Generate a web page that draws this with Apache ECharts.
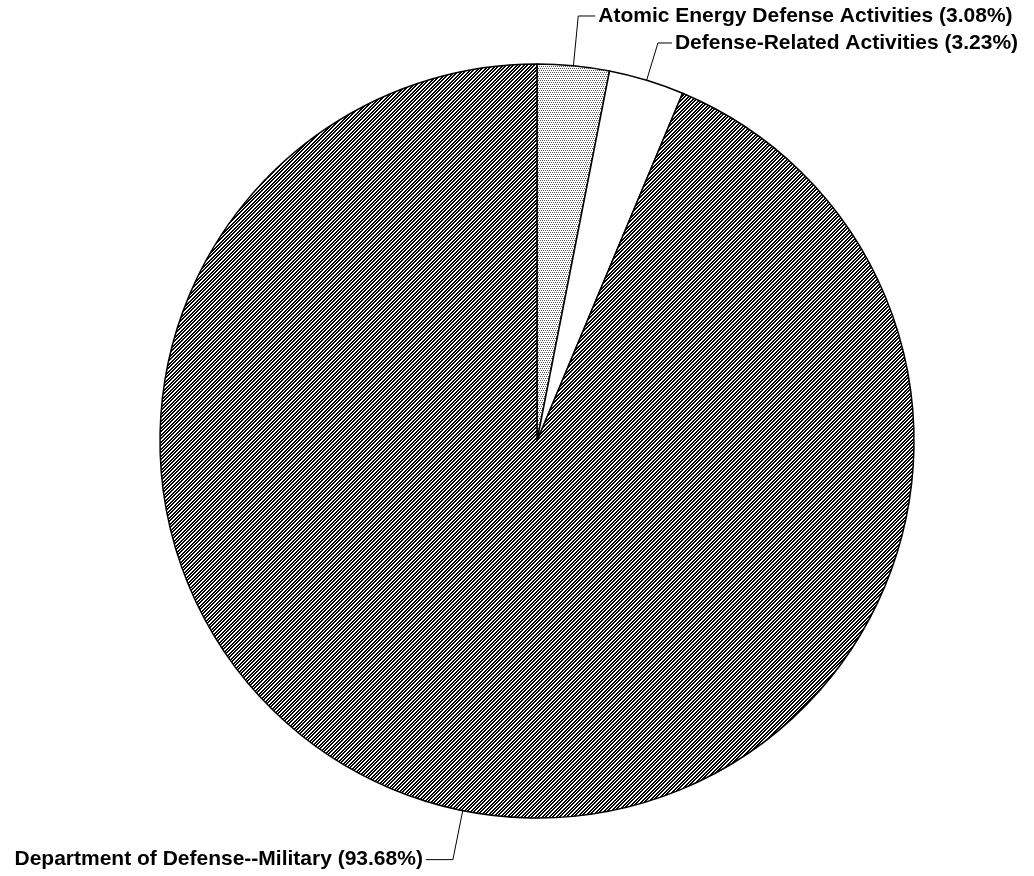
<!DOCTYPE html>
<html>
<head>
<meta charset="utf-8">
<script src="https://cdn.jsdelivr.net/npm/echarts@6/dist/echarts.min.js"></script>
<style>
html,body{margin:0;padding:0;background:#fff;}
#chart{width:1034px;height:876px;}
</style>
</head>
<body>
<div id="chart"></div>
<script>
var categories = [
  'Atomic Energy Defense Activities',
  'Defense-Related Activities',
  'Department of Defense--Military'
];
var shares = [3.08, 3.23, 93.68];
var fills = ['dots', 'white', 'hatch'];
var leaderLength = [50, 39, 50];
var leaderLength2 = [17, 14, 27];

function makeHatch() {
  var n = 7;
  var c = document.createElement('canvas');
  c.width = n; c.height = n;
  var ctx = c.getContext('2d');
  ctx.fillStyle = '#fff';
  ctx.fillRect(0, 0, n, n);
  ctx.fillStyle = '#000';
  for (var x = 0; x < n; x++) {
    for (var y = 0; y < n; y++) {
      var m = (x + y) % n;
      if (m === 0 || m === 1 || m === 3 || m === 4) ctx.fillRect(x, y, 1, 1);
    }
  }
  return c;
}
function makeDots() {
  var c = document.createElement('canvas');
  c.width = 4; c.height = 4;
  var ctx = c.getContext('2d');
  ctx.fillStyle = '#fff';
  ctx.fillRect(0, 0, 4, 4);
  ctx.fillStyle = '#555';
  ctx.fillRect(0, 0, 1, 1);
  ctx.fillRect(2, 0, 1, 1);
  ctx.fillRect(1, 2, 1, 1);
  ctx.fillRect(3, 2, 1, 1);
  return c;
}
var patterns = {
  hatch: { image: makeHatch(), repeat: 'repeat' },
  dots: { image: makeDots(), repeat: 'repeat' },
  white: '#ffffff'
};

var data = categories.map(function (name, i) {
  return {
    name: name,
    value: shares[i],
    itemStyle: { color: patterns[fills[i]] },
    labelLine: { length: leaderLength[i], length2: leaderLength2[i] }
  };
});

var chart = echarts.init(document.getElementById('chart'), null, { renderer: 'canvas' });
chart.setOption({
  animation: false,
  backgroundColor: '#fff',
  series: [{
    type: 'pie',
    center: [537, 441],
    radius: [0, 377],
    startAngle: 90,
    clockwise: true,
    avoidLabelOverlap: false,
    silent: true,
    itemStyle: { borderColor: '#000', borderWidth: 1.5 },
    label: {
      show: true,
      position: 'outside',
      formatter: function (p) { return p.name + ' (' + p.value.toFixed(2) + '%)'; },
      color: '#000',
      fontFamily: 'Liberation Sans, Arial, sans-serif',
      fontWeight: 'bold',
      fontSize: 21,
      lineHeight: 22,
      distanceToLabelLine: 3
    },
    labelLine: {
      show: true,
      smooth: false,
      lineStyle: { color: '#000', width: 1 }
    },
    labelLayout: { hideOverlap: false },
    emphasis: { disabled: true },
    data: data
  }]
});
</script>
</body>
</html>
